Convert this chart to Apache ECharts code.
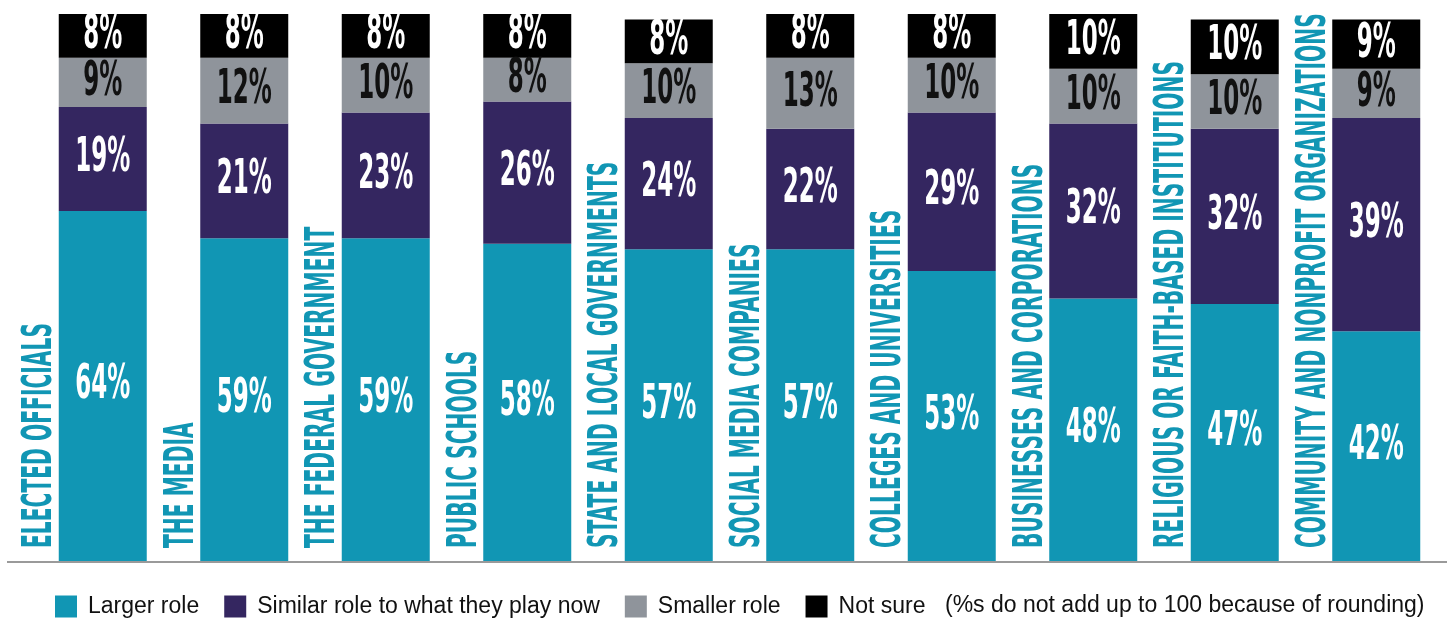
<!DOCTYPE html>
<html>
<head>
<meta charset="utf-8">
<script src="https://cdn.jsdelivr.net/npm/echarts@6/dist/echarts.min.js"></script>
<style>
  html, body { margin: 0; padding: 0; background: #ffffff; }
  #chart { width: 1450px; height: 618px; }
</style>
</head>
<body>
<div id="chart"></div>
<script>
// Institutions, in display order
const categories = [
  'ELECTED OFFICIALS',
  'THE MEDIA',
  'THE FEDERAL GOVERNMENT',
  'PUBLIC SCHOOLS',
  'STATE AND LOCAL GOVERNMENTS',
  'SOCIAL MEDIA COMPANIES',
  'COLLEGES AND UNIVERSITIES',
  'BUSINESSES AND CORPORATIONS',
  'RELIGIOUS OR FAITH-BASED INSTITUTIONS',
  'COMMUNITY AND NONPROFIT ORGANIZATIONS'
];

// Share of respondents (%) per answer
const largerRole  = [64, 59, 59, 58, 57, 57, 53, 48, 47, 42];
const similarRole = [19, 21, 23, 26, 24, 22, 29, 32, 32, 39];
const smallerRole = [ 9, 12, 10,  8, 10, 13, 10, 10, 10,  9];
const notSure     = [ 8,  8,  8,  8,  8,  8,  8, 10, 10,  9];

const seriesNames = ['Larger role', 'Similar role to what they play now', 'Smaller role', 'Not sure'];
const footnote = '(%s do not add up to 100 because of rounding)';

const TEAL = '#1196b4';
const PURPLE = '#342660';
const GRAY = '#8f949b';
const BLACK = '#000000';

const layers = [
  { name: seriesNames[0], values: largerRole,  color: TEAL,   text: '#ffffff' },
  { name: seriesNames[1], values: similarRole, color: PURPLE, text: '#ffffff' },
  { name: seriesNames[2], values: smallerRole, color: GRAY,   text: '#111111' },
  { name: seriesNames[3], values: notSure,     color: BLACK,  text: '#ffffff' }
];

const BAR_WIDTH = 88;
const GOTHIC = '"Liberation Sans Narrow", "DejaVu Sans Condensed", "Liberation Sans", sans-serif';
const CAT_SIZE = 40;
const VAL_SIZE = 48;

// Squeeze the bold face horizontally so it reads like a condensed gothic
function squeeze(sample, size, width) {
  const ctx = document.createElement('canvas').getContext('2d');
  ctx.font = 'bold ' + size + 'px ' + GOTHIC;
  return width / ctx.measureText(sample).width;
}
const catScale = squeeze('ELECTED OFFICIALS', CAT_SIZE, 225);
const valScale = squeeze('64%', VAL_SIZE, 55);

const chart = echarts.init(document.getElementById('chart'), null, { renderer: 'canvas' });

const barSeries = layers.map(l => ({
  name: l.name,
  type: 'bar',
  stack: 'total',
  barWidth: BAR_WIDTH,
  itemStyle: { color: l.color },
  emphasis: { disabled: true },
  data: l.values
}));

// Percentages printed inside each segment
const valueLabels = {
  type: 'custom',
  name: 'values',
  silent: true,
  clip: false,
  z: 10,
  data: categories.map((c, i) => [i]),
  renderItem: function (params, api) {
    const i = api.value(0);
    let acc = 0;
    const children = layers.map(l => {
      const v = l.values[i];
      const p0 = api.coord([i, acc]);
      acc += v;
      const p1 = api.coord([i, acc]);
      return {
        type: 'text',
        x: p0[0],
        y: (p0[1] + p1[1]) / 2,
        scaleX: valScale,
        style: {
          text: v + '%',
          fontFamily: GOTHIC,
          fontWeight: 'bold',
          fontSize: VAL_SIZE,
          fill: l.text,
          align: 'center',
          verticalAlign: 'middle'
        }
      };
    });
    return { type: 'group', children: children };
  }
};

// Vertical institution names beside each bar
const categoryLabels = {
  type: 'custom',
  name: 'names',
  silent: true,
  clip: false,
  z: 10,
  data: categories.map((c, i) => [i]),
  renderItem: function (params, api) {
    const i = api.value(0);
    const base = api.coord([i, 0]);
    return {
      type: 'text',
      x: base[0] - BAR_WIDTH / 2 - 18,
      y: base[1] - 13,
      rotation: Math.PI / 2,
      scaleX: catScale,
      style: {
        text: categories[i],
        fontFamily: GOTHIC,
        fontWeight: 'bold',
        fontSize: CAT_SIZE,
        fill: TEAL,
        align: 'left',
        verticalAlign: 'middle'
      }
    };
  }
};

chart.setOption({
  animation: false,
  backgroundColor: '#ffffff',
  grid: { left: 32, right: 3, top: 14, bottom: 57, containLabel: false },
  xAxis: {
    type: 'category',
    data: categories,
    axisLine: { show: false },
    axisTick: { show: false },
    axisLabel: { show: false },
    splitLine: { show: false }
  },
  yAxis: {
    type: 'value',
    min: 0,
    max: 100,
    show: false
  },
  legend: {
    data: seriesNames,
    left: 55,
    top: 595,
    padding: 0,
    itemWidth: 22,
    itemHeight: 22,
    itemGap: 25,
    icon: 'rect',
    selectedMode: false,
    textStyle: {
      fontFamily: '"Liberation Sans", Arial, sans-serif',
      fontSize: 23,
      color: '#111111',
      padding: [0, 0, 0, 6]
    }
  },
  graphic: [
    {
      type: 'line',
      shape: { x1: 7, y1: 562, x2: 1447, y2: 562 },
      style: { stroke: '#9a9a9a', lineWidth: 2 },
      z: 5
    },
    {
      type: 'text',
      left: 945,
      top: 594,
      style: {
        text: footnote,
        fontFamily: '"Liberation Sans", Arial, sans-serif',
        fontSize: 23,
        fill: '#111111'
      }
    }
  ],
  series: barSeries.concat([valueLabels, categoryLabels])
});
</script>
</body>
</html>
